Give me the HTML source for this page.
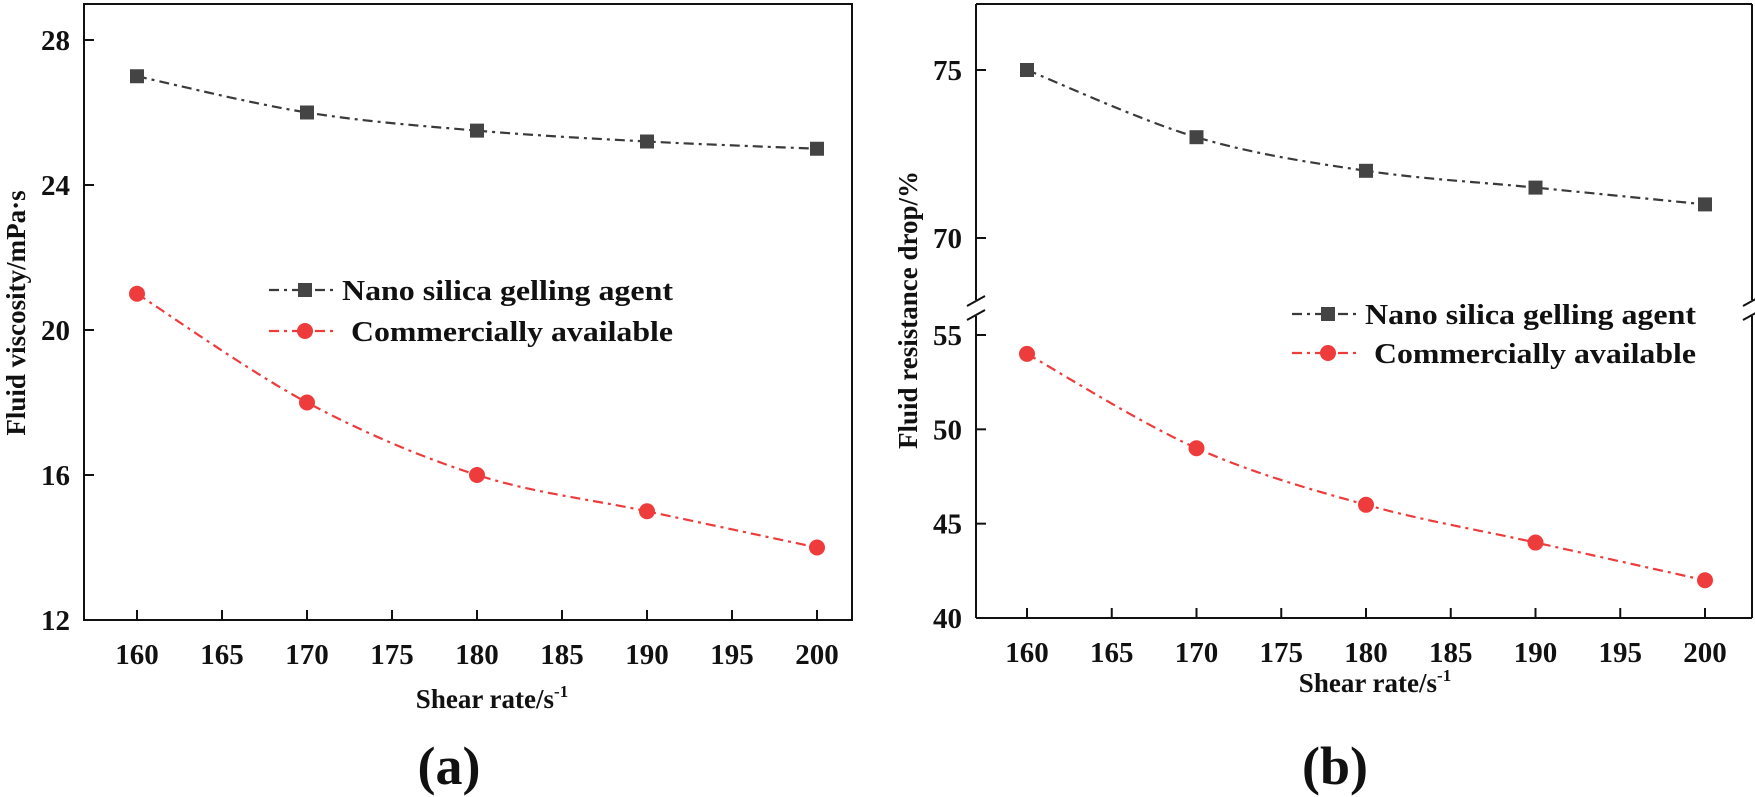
<!DOCTYPE html>
<html><head><meta charset="utf-8">
<style>
html,body{margin:0;padding:0;background:#fff;}
svg{display:block;}
svg text{font-family:"Liberation Serif","Times New Roman",serif !important;font-weight:bold;fill:#111;}
</style></head>
<body>
<svg id="fig" width="1755" height="797" viewBox="0 0 1755 797" xmlns="http://www.w3.org/2000/svg" font-family="Liberation Serif, serif" font-weight="bold"></svg>
<script>
const categories = [160, 170, 180, 190, 200];
const xTicks = [160, 165, 170, 175, 180, 185, 190, 195, 200];
const viscNano = [27, 26, 25.5, 25.2, 25];
const viscComm = [21, 18, 16, 15, 14];
const viscTicks = [12, 16, 20, 24, 28];
const dropNano = [75, 73, 72, 71.5, 71];
const dropComm = [54, 49, 46, 44, 42];
const dropTicksUpper = [70, 75];
const dropTicksLower = [40, 45, 50, 55];
const legendLabels = ["Nano silica gelling agent", "Commercially available"];

const NS = "http://www.w3.org/2000/svg";
const svg = document.getElementById('fig');
function mk(tag, attrs, parent, txt){
  const e = document.createElementNS(NS, tag);
  for (const k in attrs) e.setAttribute(k, attrs[k]);
  if (tag === 'text') e.setAttribute('font-family', 'Liberation Serif, serif');
  if (txt !== undefined) e.textContent = txt;
  (parent || svg).appendChild(e);
  return e;
}
function lin(d0, d1, r0, r1){ return v => r0 + (v - d0) * (r1 - r0) / (d1 - d0); }
function smooth(pts){
  let d = "M" + pts[0][0] + "," + pts[0][1];
  for (let i = 0; i < pts.length - 1; i++){
    const p0 = pts[i-1] || pts[i], p1 = pts[i], p2 = pts[i+1], p3 = pts[i+2] || p2;
    const c1 = [p1[0] + (p2[0]-p0[0])/6, p1[1] + (p2[1]-p0[1])/6];
    const c2 = [p2[0] - (p3[0]-p1[0])/6, p2[1] - (p3[1]-p1[1])/6];
    d += " C" + c1 + " " + c2 + " " + p2;
  }
  return d;
}
const DASH = "10,5,3,5";
const BLK = "#3a3a3a", RED = "#ee3b3b";
const FS = 29;

function series(g, xs, ys, vals, kind, name){
  const pts = categories.map((c, i) => [xs(c), ys(vals[i])]);
  const line = mk('path', {d: smooth(pts), fill: 'none', stroke: kind === 'sq' ? BLK : RED, 'stroke-width': 2.2, 'stroke-dasharray': DASH}, g);
  
  
  pts.forEach((p, i) => {
    let m;
    if (kind === 'sq') m = mk('rect', {x: p[0]-7, y: p[1]-7, width: 14, height: 14, fill: '#444'}, g);
    else m = mk('circle', {cx: p[0], cy: p[1], r: 8, fill: RED}, g);
    
    
  });
}
function legend(g, x0, y0, y1){
  const items = [[y0, 'sq', BLK], [y1, 'ci', RED]];
  items.forEach((it, i) => {
    const gi = mk('g', {}, g);
    
    
    mk('line', {x1: x0, y1: it[0], x2: x0 + 66, y2: it[0], stroke: it[2], 'stroke-width': 2.2, 'stroke-dasharray': DASH}, gi);
    if (it[1] === 'sq') mk('rect', {x: x0+29, y: it[0]-7, width: 14, height: 14, fill: '#444'}, gi);
    else mk('circle', {cx: x0+36, cy: it[0], r: 8, fill: RED}, gi);
    mk('text', {x: x0 + (i ? 82 : 73), y: it[0] + 10, 'font-size': 28, textLength: i ? 322 : 331, lengthAdjust: 'spacingAndGlyphs'}, gi, legendLabels[i]);
  });
}
function xAxis(g, xs, yb){
  xTicks.forEach(t => {
    mk('line', {x1: xs(t), y1: yb, x2: xs(t), y2: yb - 10, stroke: '#111', 'stroke-width': 2}, g);
    const tl = mk('text', {x: xs(t), y: yb + 44, 'font-size': FS, 'text-anchor': 'middle'}, g, t);
    
    
  });
}

/* ---- Chart (a) ---- */
const ga = mk('g', {});  
const xa = lin(160, 200, 137, 817);
const ya = lin(12, 28, 620, 40);
mk('rect', {x: 84, y: 4, width: 768, height: 616, fill: 'none', stroke: '#111', 'stroke-width': 2}, ga);
xAxis(ga, xa, 620);
viscTicks.forEach(t => {
  if (t !== 12) mk('line', {x1: 84, y1: ya(t), x2: 94, y2: ya(t), stroke: '#111', 'stroke-width': 2}, ga);
  const tl = mk('text', {x: 70, y: ya(t) + 10, 'font-size': FS, 'text-anchor': 'end'}, ga, t);
  
  
});
series(ga, xa, ya, viscNano, 'sq', 'a-nano');
series(ga, xa, ya, viscComm, 'ci', 'a-comm');
legend(ga, 269, 290, 331);
let t1 = mk('text', {x: 492, y: 708, 'font-size': 27, 'text-anchor': 'middle'}, ga);
t1.innerHTML = 'Shear rate/s<tspan dy="-11" font-size="17">-1</tspan>';
 
let t2 = mk('text', {x: 0, y: 0, 'font-size': 27, 'text-anchor': 'middle', transform: 'translate(25,313) rotate(-90)'}, ga, 'Fluid viscosity/mPa·s');
 
let t3 = mk('text', {x: 449, y: 784, 'font-size': 54, 'text-anchor': 'middle'}, ga, '(a)');
 

/* ---- Chart (b) ---- */
const gb = mk('g', {});  
const xb = lin(160, 200, 1027, 1705);
const ybU = lin(70, 75, 238, 70);
const ybL = lin(40, 55, 618, 335);
const L = 976, R = 1752, T = 4, B = 618, BK1 = 300, BK2 = 316;
[[L, T, L, BK1], [L, BK2, L, B], [R, T, R, BK1], [R, BK2, R, B], [L, T, R, T], [L, B, R, B]].forEach(s =>
  mk('line', {x1: s[0], y1: s[1], x2: s[2], y2: s[3], stroke: '#111', 'stroke-width': 2}, gb));
[L, R].forEach(x => {
  mk('line', {x1: x-9, y1: BK1+6, x2: x+9, y2: BK1-4, stroke: '#111', 'stroke-width': 2}, gb);
  mk('line', {x1: x-9, y1: BK2+4, x2: x+9, y2: BK2-6, stroke: '#111', 'stroke-width': 2}, gb);
});
xAxis(gb, xb, B);
dropTicksUpper.forEach(t => {
  mk('line', {x1: L, y1: ybU(t), x2: L+10, y2: ybU(t), stroke: '#111', 'stroke-width': 2}, gb);
  const tl = mk('text', {x: 962, y: ybU(t) + 10, 'font-size': FS, 'text-anchor': 'end'}, gb, t);
   
});
dropTicksLower.forEach(t => {
  if (t !== 40) mk('line', {x1: L, y1: ybL(t), x2: L+10, y2: ybL(t), stroke: '#111', 'stroke-width': 2}, gb);
  const tl = mk('text', {x: 962, y: ybL(t) + 10, 'font-size': FS, 'text-anchor': 'end'}, gb, t);
   
});
series(gb, xb, ybU, dropNano, 'sq', 'b-nano');
series(gb, xb, ybL, dropComm, 'ci', 'b-comm');
legend(gb, 1292, 314, 353);
let t4 = mk('text', {x: 1375, y: 692, 'font-size': 27, 'text-anchor': 'middle'}, gb);
t4.innerHTML = 'Shear rate/s<tspan dy="-11" font-size="17">-1</tspan>';
 
let t5 = mk('text', {x: 0, y: 0, 'font-size': 27, 'text-anchor': 'middle', transform: 'translate(917,310) rotate(-90)'}, gb, 'Fluid resistance drop/%');
 
let t6 = mk('text', {x: 1335, y: 784, 'font-size': 54, 'text-anchor': 'middle'}, gb, '(b)');
 
</script>
</body></html>
